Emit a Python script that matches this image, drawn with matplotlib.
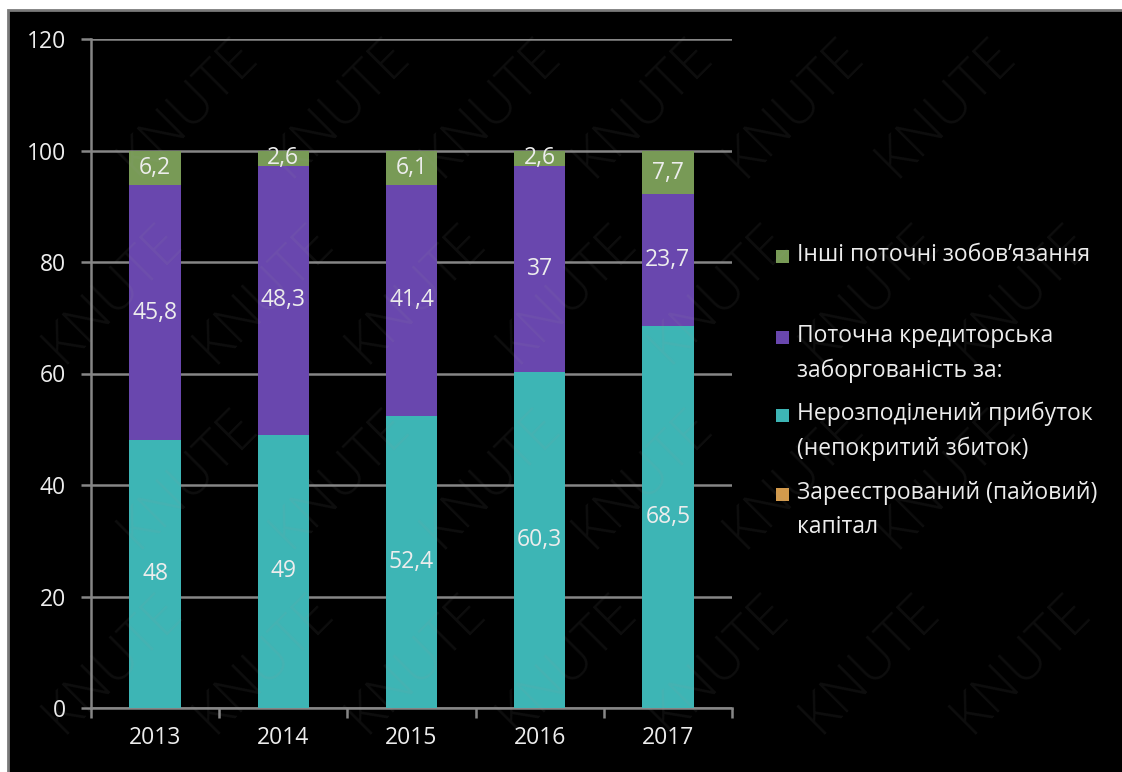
import matplotlib.pyplot as plt
from matplotlib.patches import Rectangle
import numpy as np

plt.rcParams['font.family'] = ['Open Sans', 'DejaVu Sans']

years = ['2013', '2014', '2015', '2016', '2017']
capital = [0, 0, 0, 0, 0]
retained = [48, 49, 52.4, 60.3, 68.5]
payables = [45.8, 48.3, 41.4, 37, 23.7]
other = [6.2, 2.6, 6.1, 2.6, 7.7]

series = [
    ('Зареєстрований (пайовий)\nкапітал', capital, '#D39A4C'),
    ('Нерозподілений прибуток\n(непокритий збиток)', retained, '#3DB5B5'),
    ('Поточна кредиторська\nзаборгованість за:', payables, '#6947AE'),
    ('Інші поточні зобов’язання', other, '#789A56'),
]

text_col = '#EDEDED'
grid_col = '#868686'
fs = 16.5

fig = plt.figure(figsize=(11.22, 7.72), dpi=100, facecolor='white')
# black slide panel with thin grey frame
fig.patches.append(Rectangle((8 / 1122, -0.01), 1.02, 1 - 10 / 772 + 0.01,
                             transform=fig.transFigure, facecolor='black',
                             edgecolor='#7a7a7a', linewidth=2, zorder=-5))

ax = fig.add_axes([91 / 1122, 1 - 708 / 772, 641 / 1122, 669 / 772])
ax.set_facecolor('none')

x = np.arange(len(years))
bottom = np.zeros(len(years))
for name, vals, col in series:
    vals = np.array(vals, dtype=float)
    ax.bar(x, vals, width=0.4, bottom=bottom, color=col, zorder=3)
    for xi, b, v in zip(x, bottom, vals):
        if v > 0:
            ax.text(xi, b + v / 2, f'{v:g}'.replace('.', ','), ha='center',
                    va='center', color=text_col, fontsize=fs, zorder=4)
    bottom += vals

ax.set_xlim(-0.5, len(years) - 0.5)
ax.set_ylim(0, 120)
ax.set_yticks(range(0, 121, 20))
ax.yaxis.grid(True, color=grid_col, linewidth=1.8, zorder=1)
ax.set_axisbelow(True)

ax.set_xticks(np.arange(-0.5, len(years)), minor=False)
ax.set_xticklabels([''] * (len(years) + 1))
ax.set_xticks(x, minor=True)
ax.set_xticklabels(years, minor=True)
ax.tick_params(axis='x', which='major', length=7, width=1.8, color=grid_col)
ax.tick_params(axis='x', which='minor', length=0, pad=13, labelsize=fs,
               labelcolor=text_col)
ax.tick_params(axis='y', length=7, width=1.8, color=grid_col, pad=11,
               labelsize=fs, labelcolor=text_col)

for s in ['top', 'right']:
    ax.spines[s].set_visible(False)
for s in ['left', 'bottom']:
    ax.spines[s].set_color(grid_col)
    ax.spines[s].set_linewidth(1.8)

# legend, top entry first
legend_rows = [(256, series[3]), (337, series[2]), (415, series[1]), (494, series[0])]
for ypix, (name, vals, col) in legend_rows:
    yf = 1 - ypix / 772
    fig.patches.append(Rectangle((776 / 1122, yf - 6.5 / 772), 13 / 1122, 13 / 772,
                                 transform=fig.transFigure, facecolor=col,
                                 edgecolor='none', zorder=2))
    fig.text(797 / 1122, yf + 13 / 772, name, ha='left', va='top', color=text_col,
             fontsize=fs, linespacing=1.58, zorder=3)

# faint KNUTE watermark across the slide
for i in range(7):
    for j in range(4):
        xf = 0.1 + i * 0.135 + (j % 2) * 0.0675
        yf = 0.14 + j * 0.24
        if xf > 0.93:
            continue
        fig.text(xf, yf, 'KNUTE', rotation=45, fontsize=40, color='#9a9a9a',
                 fontweight='light', alpha=0.09, ha='center', va='center',
                 zorder=10)

fig.savefig('out.png', dpi=100, facecolor=fig.get_facecolor())
